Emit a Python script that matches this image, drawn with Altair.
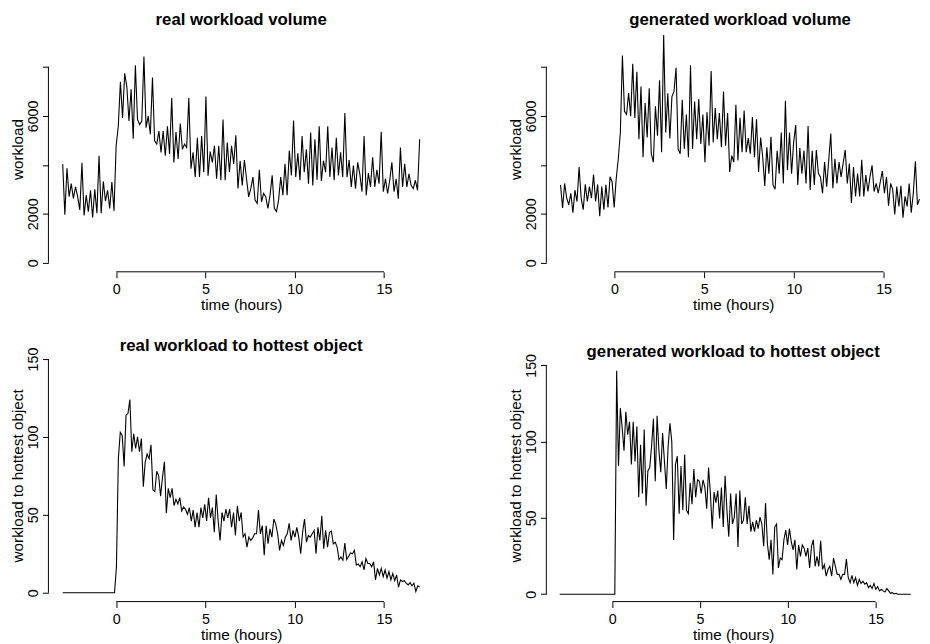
import altair as alt
import numpy as np
import pandas as pd

# ---------------- data ----------------
real_volume = [
    4030, 1960, 3860, 2700, 3230, 2630, 3100, 2700, 2160, 4080,
    1930, 2760, 2090, 2960, 1850, 3000, 2020, 4370, 2020, 3330,
    2520, 2960, 2220, 3300, 2120, 4780, 5580, 7400, 5920, 7740,
    7200, 5790, 7090, 5070, 8070, 5850, 5650, 5790, 8430, 5520,
    5990, 5250, 7570, 4980, 4850, 5380, 4510, 5380, 4370, 5580,
    4440, 6730, 4100, 5340, 4240, 5690, 4640, 4850, 4710, 6730,
    3840, 4510, 3500, 5110, 3500, 5180, 3700, 6790, 3560, 4540,
    4100, 4780, 3430, 4780, 3370, 5850, 3370, 4910, 3700, 4780,
    4040, 5210,
    3030, 4170, 3160, 4200, 3430, 2690, 3030, 3500, 2560, 2430,
    3800, 2490, 2830, 2690, 2220, 2760, 3570, 2220, 2090, 2560,
    3500, 2760, 4040, 2760, 4580, 3570, 5810, 3500, 4470, 3370,
    5180, 3700, 4640, 3230, 5320, 3160, 5050, 3390, 5580, 3340,
    4170, 3700, 5580, 3500, 4710, 3370, 5110, 3570, 4510, 3500,
    6120, 3500, 4200, 3100, 3970, 3030, 4100, 3630, 2900, 5180,
    2760, 3660, 3100, 4310, 3100, 3800, 3230, 5350, 2900, 3430,
    2830, 3370, 4100, 2900, 3430, 2620, 4710, 3100, 4040, 3100,
    3630, 3160, 3030, 3370, 2960, 5050,
]

generated_volume = [
    3180, 2240, 3240, 2640, 2370, 2840, 2040, 2970, 2500, 3910,
    2640, 2170, 3200, 2500, 3110, 2640, 3600, 2500, 3200, 1900,
    3110, 2170, 3180, 2260, 3510, 3310, 2260, 3440, 4250, 5320,
    8470, 6190, 6060, 6930, 5990, 8130, 5920, 7800, 5050, 7200,
    4310, 6530, 5120, 7130, 4450, 4110, 6390, 5190, 7460, 4520,
    9310, 5320, 6930, 5080, 6790, 7000, 7970, 4650, 4450, 6660,
    4650, 6060, 4310, 8070, 4650, 6590, 5050, 6690, 4850, 6060,
    4110, 6150, 4780, 7840, 4920, 6320, 5050, 6120, 4720, 7000,
    4780, 6120, 3710, 4380, 4110,
    6460, 4180, 5920, 4520, 6220, 4520, 5090, 4450, 5950, 4310,
    5860, 3710, 5120, 4310, 3140, 4720, 3640, 5150, 3180, 3000,
    4580, 3640, 5320, 3240, 6620, 3780, 5320, 3640, 4920, 5630,
    3180, 4690, 3640, 4580, 3240, 5590, 2970, 4580, 3180, 4610,
    3640, 3510, 2840, 4110, 3110, 4180, 5280, 3040, 4250, 3240,
    4110, 3510, 4070, 4610, 3240, 4050, 2440, 3910, 2710, 3640,
    2710, 4210, 2710, 3580, 2910, 3510, 3980, 2910, 3240, 2840,
    3310, 3750, 2840, 3510, 2330, 3240, 3000, 1970, 3110, 2300,
    3140, 1840, 2710, 2300, 3240, 2040, 2840, 4150, 2370, 2600,
]

real_hottest = [0] * 28 + [
    16.7, 86, 103, 101, 81, 114, 115, 124, 90.5, 102,
    92.6, 100, 90.5, 99, 68, 84, 89, 86, 95, 66,
    65, 78, 75, 62, 74, 84, 51, 67, 61, 67,
    56, 60, 57, 61, 52.5, 55, 53.6, 50.4, 54.6, 46,
    53, 42, 51.5, 42, 54.6, 48, 56.8, 46, 61, 48,
    54.6, 38.8, 63, 46, 33.5, 51.5, 46, 53.6, 48, 53.6,
    42, 51.5, 36.7, 55.7, 46, 51.5, 35.7,
    37.8, 29.3, 35.7, 33.5, 35.2, 37.8, 37.8, 53, 37.8, 43,
    24, 43, 31.4, 41, 35.7, 47.3, 44, 37.8, 27.2, 33.5,
    30.4, 35.7, 37.8, 44.5, 33.5, 40, 35.7, 42, 35.7, 25,
    38.8, 47.3, 32.5, 36.7, 35.7, 37.8, 40, 25, 42, 33.5,
    49.4, 28.3, 40, 29.3, 38.8, 39.5, 31.4, 32.5, 29.3, 21.3,
    23, 20.9, 31.9, 21.3, 23.4, 25.5, 25, 27.2, 17.7, 18.4,
    16.7, 19.8, 14.6, 21.9, 18.8, 18.8, 16.7, 19.8, 8.2, 15.6,
    11.4, 15.6, 10.3, 14.6, 9.3, 13.5, 8.2, 12.4, 7.8, 11.4,
    3.6, 8.2, 7.2, 7.8, 6.1, 5, 6.5, 4.4, 6.1, 0.8,
    4.4, 3.6,
]

generated_hottest = [0] * 31 + [
    146.5, 84, 122, 109, 94, 119.6, 104.5, 113, 85, 113,
    87, 110, 63.6, 98, 66, 108, 58, 81, 83, 97,
    115, 74, 117, 94, 80, 105.6, 87, 69, 97, 112,
    100, 35.6, 85, 90.5, 52.8, 84, 55, 91.6, 55, 52.8,
    73, 59, 82, 63.6, 75, 74, 66, 75, 70, 56,
    83, 66, 43, 67, 60, 68, 49.6, 70, 44, 77.6,
    55, 37.7, 66, 46, 50.6, 66, 31, 68, 46, 48.5,
    63.6, 46,
    58, 41, 47.4, 41, 48.5, 43, 50.6, 46, 31.5, 59.7,
    33.4, 22.6, 35.6, 13, 44, 46, 17.2, 23.7, 22.6, 35.6,
    42, 32.3, 43, 34.5, 29, 35.6, 16.2, 32.3, 24.8, 32.3,
    30.2, 24.8, 30.2, 17.2, 31.3, 35.6, 18.3, 24.8, 18.3, 35,
    16.2, 19.4, 11.9, 16.2, 18.3, 11.9, 23.7, 18.3, 13, 13,
    9.7, 13, 13, 23, 10.8, 7.5, 12.3, 7.5, 10.8, 5.8,
    9.7, 7.1, 8.6, 6.5, 7.5, 4.3, 5.8, 3.7, 7.1, 3.2,
    5, 2.2, 3.2, 2.2, 1.5, 3.7, 2.2, 0.6, 1, 0.2,
    0.6, 0, 0, 0, 0, 0, 0, 0, 0,
]

t_start, t_end = -3, 17          # time span of every series (hours)
x_ticks = [0, 5, 10, 15]
vol_ticks = [0, 2000, 4000, 6000, 8000]
hot_ticks = [0, 50, 100, 150]

FONT = "Liberation Sans"


def panel(values, title, ytitle, xdom, ydom, yticks, width, height,
          title_dy=0, title_dx=0, hide_labels=()):
    times = np.linspace(t_start, t_end, len(values))
    df = pd.DataFrame({"t": times, "v": values})
    xs = alt.Scale(domain=xdom, nice=False, zero=False)
    ys = alt.Scale(domain=ydom, nice=False, zero=False)
    if hide_labels:
        cond = " || ".join(f"datum.value == {h}" for h in hide_labels)
        lexpr = f"({cond}) ? '' : datum.label"
    else:
        lexpr = "datum.label"

    xaxis = alt.Axis(
        values=x_ticks, domain=False, grid=False, tickSize=6,
        tickColor="black", tickWidth=1, labelFontSize=14.5,
        labelColor="black", labelFont=FONT, labelPadding=5,
        labelFlush=False, title="time (hours)", titleFont=FONT,
        titleFontSize=15.5, titleFontWeight="normal", titleColor="black",
        titlePadding=2)
    yaxis = alt.Axis(
        values=yticks, format="d", labelExpr=lexpr, domain=False, grid=False,
        tickSize=6, tickColor="black", tickWidth=1, labelAngle=270,
        labelAlign="center", labelBaseline="alphabetic",
        labelFontSize=14.5, labelColor="black", labelFont=FONT,
        labelPadding=5, labelFlush=False, title=ytitle, titleFont=FONT,
        titleFontSize=15.5, titleFontWeight="normal", titleColor="black",
        titlePadding=0)

    line = alt.Chart(df).mark_line(color="black", strokeWidth=1.1).encode(
        x=alt.X("t:Q", scale=xs, axis=xaxis),
        y=alt.Y("v:Q", scale=ys, axis=yaxis),
    )

    ax = pd.DataFrame({"t": [xdom[0]], "xa": [x_ticks[0]], "xb": [x_ticks[-1]],
                       "v": [ydom[0]], "ya": [yticks[0]], "yb": [yticks[-1]]})
    yline = alt.Chart(ax).mark_rule(color="black", strokeWidth=1).encode(
        x=alt.X("t:Q", scale=xs, axis=xaxis),
        y=alt.Y("ya:Q", scale=ys, axis=yaxis),
        y2="yb:Q",
    )
    xline = alt.Chart(ax).mark_rule(color="black", strokeWidth=1).encode(
        y=alt.Y("v:Q", scale=ys, axis=yaxis),
        x=alt.X("xa:Q", scale=xs, axis=xaxis),
        x2="xb:Q",
    )
    return alt.layer(line, yline, xline).properties(
        width=width, height=height,
        title=alt.TitleParams(title, font=FONT, fontSize=17, fontWeight="bold",
                              color="black", anchor="middle", offset=0,
                              dy=title_dy, dx=title_dx),
    )


tl = panel(real_volume, "real workload volume", "workload",
           [-3.8, 17.8], [-372, 9664], vol_ticks, 391, 249,
           title_dy=2.5, hide_labels=(4000, 8000))
tr = panel(generated_volume, "generated workload volume", "workload",
           [-3.79, 17.03], [-372, 9664], vol_ticks, 379, 249,
           title_dy=2.5, title_dx=7, hide_labels=(4000, 8000))
bl = panel(real_hottest, "real workload to hottest object",
           "workload to hottest object",
           [-3.8, 17.8], [-5.7, 156.3], hot_ticks, 391, 256, title_dy=7.5)
br = panel(generated_hottest, "generated workload to hottest object",
           "workload to hottest object",
           [-3.76, 17.53], [-4.85, 160.6], hot_ticks, 379, 256, title_dy=12)

chart = alt.vconcat(
    alt.hconcat(tl, tr, spacing=76),
    alt.hconcat(bl, br, spacing=76),
    spacing=23.5,
).properties(
    padding={"left": 3, "top": -2, "right": 0, "bottom": 0},
    background="white",
).configure_view(stroke="transparent", strokeWidth=0)

chart.save("out.html", embed_options={"renderer": "svg", "actions": False})
